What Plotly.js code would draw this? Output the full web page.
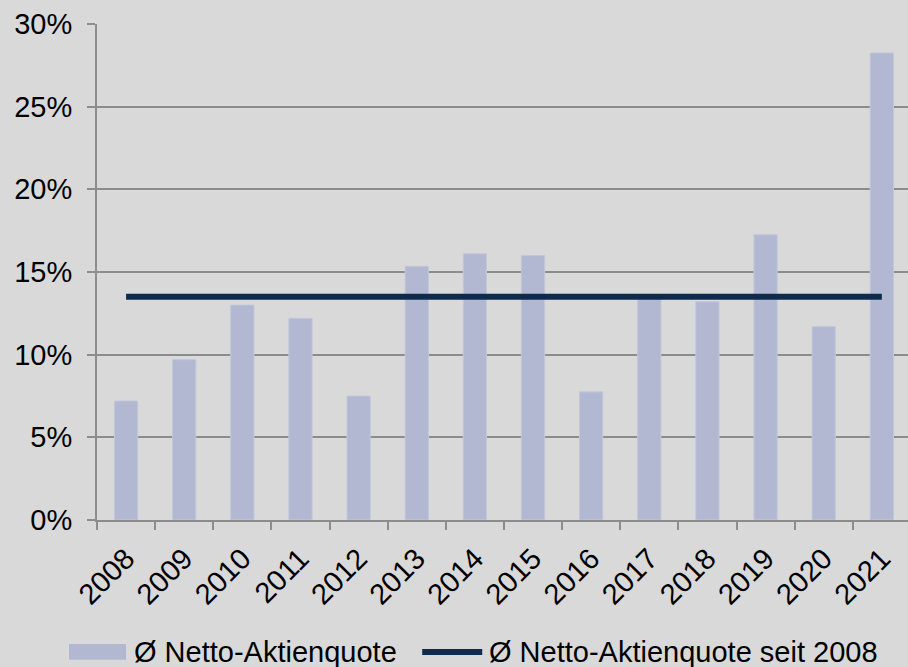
<!DOCTYPE html>
<html>
<head>
<meta charset="utf-8">
<script src="https://cdn.plot.ly/plotly-3.0.1.min.js"></script>
<style>
  html, body { margin: 0; padding: 0; background: #d9d9d9; }
  #chart { width: 908px; height: 667px; }
</style>
</head>
<body>
<div id="chart"></div>
<script>
// Werte (in %)
var years = ['2008', '2009', '2010', '2011', '2012', '2013', '2014',
             '2015', '2016', '2017', '2018', '2019', '2020', '2021'];
var quote = [7.2, 9.7, 13.0, 12.2, 7.5, 15.35, 16.1,
             16.0, 7.75, 13.4, 13.2, 17.25, 11.7, 28.25];
var avgSince2008 = 13.5;
var yTicks = [0, 5, 10, 15, 20, 25, 30];
var seriesNames = ['Ø Netto-Aktienquote', 'Ø Netto-Aktienquote seit 2008'];

var barColor = '#b2b8d2';
var lineColor = '#0e2a4c';
var avgLine = years.map(function () { return avgSince2008; });

var data = [{
    x: years,
    y: quote,
    type: 'bar',
    name: seriesNames[0],
    width: 0.4,
    marker: {
      color: barColor,
      line: { color: '#c3c7da', width: 1 }
    }
  }, {
    x: years,
    y: avgLine,
    type: 'scatter',
    mode: 'lines',
    name: seriesNames[1],
    line: { color: lineColor, width: 6 }
  }
];

// Legende von Hand, damit der breite Balken wie im Original aussieht
// (Plotly begrenzt die Liniendicke im Legendensymbol)
var legY = -0.266;
var legendShapes = [{
    type: 'rect', xref: 'paper', yref: 'paper',
    x0: -0.0345, x1: 0.0358, y0: legY - 0.016, y1: legY + 0.016,
    fillcolor: barColor, line: { width: 0 }
  }, {
    type: 'line', xref: 'paper', yref: 'paper',
    x0: 0.401, x1: 0.475, y0: legY, y1: legY,
    line: { color: lineColor, width: 6 }
  }
];
var legendTexts = [{
    text: seriesNames[0], x: 0.043
  }, {
    text: seriesNames[1], x: 0.481
  }
].map(function (a) {
  return {
    text: a.text, x: a.x, y: legY, xref: 'paper', yref: 'paper',
    xanchor: 'left', yanchor: 'middle', showarrow: false,
    font: { size: 29 }
  };
});

var layout = {
  width: 908,
  height: 667,
  paper_bgcolor: '#d9d9d9',
  plot_bgcolor: '#d9d9d9',
  font: { family: 'Liberation Sans, Arial, sans-serif', size: 29, color: '#000' },
  margin: { l: 97, r: 0, t: 24, b: 147 },
  showlegend: false,
  shapes: legendShapes,
  annotations: legendTexts,
  xaxis: {
    type: 'category',
    range: [-0.5, 13.45],
    automargin: false,
    tickangle: -45,
    tickson: 'boundaries',
    ticks: 'outside',
    ticklen: 8,
    tickwidth: 2,
    tickcolor: '#8c8c8c',
    ticklabelstandoff: 8,
    showline: true,
    linecolor: '#8c8c8c',
    linewidth: 2,
    showgrid: false,
    zeroline: false,
    fixedrange: true
  },
  yaxis: {
    range: [0, 30],
    automargin: false,
    tickvals: yTicks,
    ticktext: yTicks.map(function (v) { return v + '%'; }),
    ticks: 'outside',
    ticklen: 8,
    tickwidth: 2,
    tickcolor: '#8c8c8c',
    ticklabelstandoff: 9,
    showline: true,
    linecolor: '#8c8c8c',
    linewidth: 2,
    showgrid: true,
    gridcolor: '#8c8c8c',
    gridwidth: 2,
    zeroline: false,
    fixedrange: true
  }
};

Plotly.newPlot('chart', data, layout, { displayModeBar: false, staticPlot: true });
</script>
</body>
</html>
